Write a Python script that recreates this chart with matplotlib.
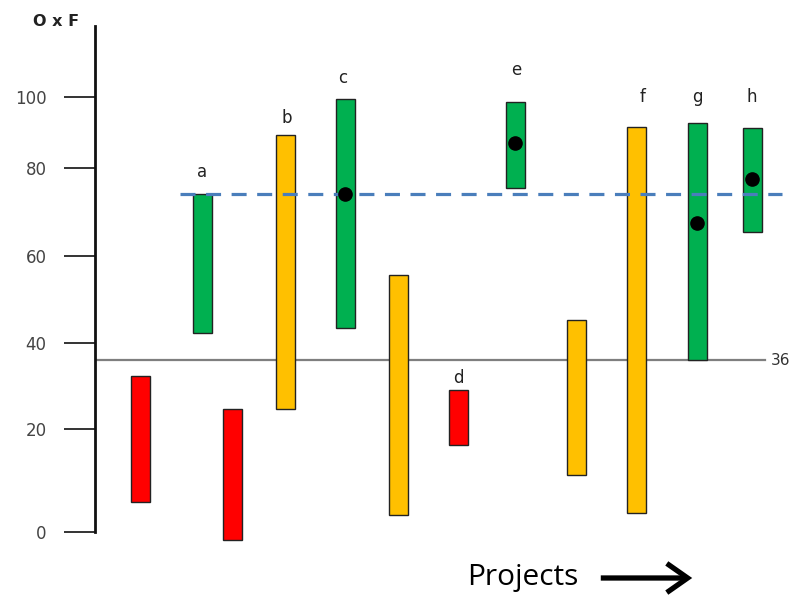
import numpy as np
import matplotlib
matplotlib.use("Agg")
import matplotlib.pyplot as plt
from matplotlib.patches import FancyArrowPatch

# project columns (left to right), position along the x axis
project_x = [140, 202, 232, 285, 345, 398, 458, 515, 576, 636, 697, 752]
low = [5.8, 42.3, -1.6, 24.7, 43.4, 3.3, 16.9, 75.5, 11.1, 3.7, 36, 65.5]
high = [32.3, 74, 24.7, 89.3, 99.4, 55.6, 29.1, 98.6, 45.3, 91.5, 92.7, 91.3]
status = ["red", "green", "red", "orange", "green", "orange",
          "red", "green", "orange", "orange", "green", "green"]

# letter labels
label_text = ["a", "b", "c", "d", "e", "f", "g", "h"]
label_x = [202, 287, 343, 458, 516, 643, 697, 752]
label_y = [79.2, 94, 105.4, 31.9, 107.6, 100, 100, 100]

# black dots
dot_x = [345, 515, 697, 752]
dot_y = [74, 87, 67.5, 77.5]

threshold = 36
target = 74
yticks = [0, 20, 40, 60, 80, 100]

colors = {"red": "#FF0000", "green": "#00B050", "orange": "#FFC000"}

# the hand drawn axis is not evenly spaced, so map values -> drawing position
scale_vals = np.array([-20, 0, 20, 40, 60, 80, 100, 120])
scale_pos = -np.array([635, 532, 429, 343, 256, 168, 97, 26], dtype=float)

def fwd(v):
    return np.interp(v, scale_vals, scale_pos)

def inv(p):
    return np.interp(p, scale_pos, scale_vals)

W, H = 800, 597
fig = plt.figure(figsize=(W / 100, H / 100), dpi=100)
ax = fig.add_axes([95 / W, 1 - 545 / H, 1 - 95 / W, (545 - 26) / H])
ax.set_yscale("function", functions=(fwd, inv))
ax.set_xlim(95, 800)
ax.set_ylim(inv(-545), 120)

for s in ["top", "right", "bottom"]:
    ax.spines[s].set_visible(False)
ax.spines["left"].set_linewidth(2.0)
ax.spines["left"].set_color("#111111")
ax.spines["left"].set_bounds(0, 120)
ax.set_xticks([])
ax.set_yticks(yticks)
ax.set_yticklabels([str(t) for t in yticks])
ax.tick_params(axis="y", length=22, width=1.4, color="#333333",
               labelcolor="#444444", labelsize=12, pad=13)
ax.yaxis.set_minor_locator(plt.NullLocator())

# reference lines
ax.plot([95, 765], [threshold, threshold], color="#7F7F7F", lw=1.6, zorder=1)
ax.text(771, threshold, "36", ha="left", va="center", fontsize=11, color="#333333")
ax.plot([180, 782], [target, target], color="#4A7EBB", lw=2.3,
        linestyle=(0, (4.7, 3.3)), zorder=3)

# floating bars
heights = [h - l for h, l in zip(high, low)]
ax.bar(project_x, heights, bottom=low, width=19,
       color=[colors[s] for s in status], edgecolor="#222222", linewidth=1.0, zorder=2)

ax.plot(dot_x, dot_y, "o", color="black", markersize=9.5, zorder=4)

for t, x, y in zip(label_text, label_x, label_y):
    ax.text(x, y, t, ha="center", va="center", fontsize=12, color="#222222")

fig.text(56 / W, 1 - 22 / H, "O x F", ha="center", va="center",
         fontsize=11.5, fontweight="bold", color="#222222")
fig.text(523 / W, 1 - 577 / H, "Projects", ha="center", va="center",
         fontsize=21.5, family="Open Sans", color="black")
arrow = FancyArrowPatch((598 / W, 1 - 578 / H), (695 / W, 1 - 578 / H),
                        transform=fig.transFigure,
                        arrowstyle="->,head_length=5,head_width=3.5",
                        mutation_scale=3, lw=3.8, color="black",
                        capstyle="butt", joinstyle="miter")
fig.patches.append(arrow)

fig.savefig("out.png", dpi=100)
